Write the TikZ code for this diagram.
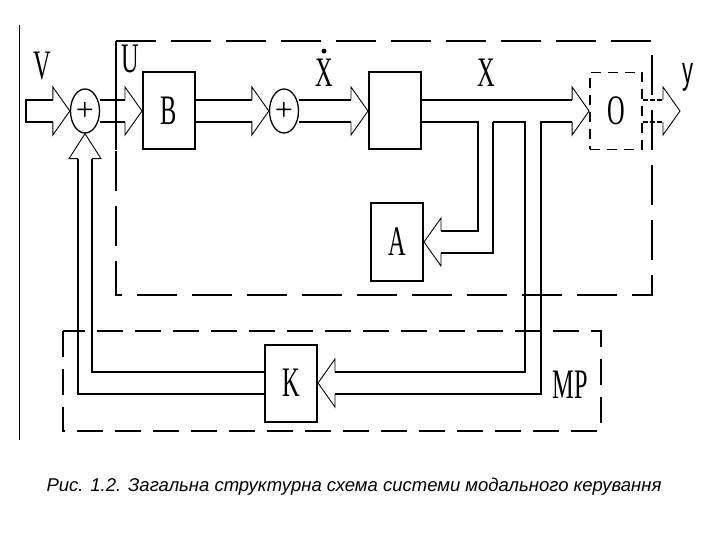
\documentclass[tikz,border=0pt]{standalone}
\usepackage{fontspec}
\setmainfont{Liberation Serif}
\setsansfont{Liberation Sans}
\usetikzlibrary{shapes.geometric}

% tall narrow letters of the scheme
\newcommand{\narrow}[1]{\scalebox{0.58}[1]{#1}}
% hollow arrow heads (tip at the given point)
\newcommand{\headR}[1]{\draw[head] ([shift={(-17pt,11pt)}]#1) -- ([shift={(-17pt,24pt)}]#1) -- (#1) -- ([shift={(-17pt,-24pt)}]#1) -- ([shift={(-17pt,-11pt)}]#1);}
\newcommand{\headL}[1]{\draw[head] ([shift={(17pt,11pt)}]#1) -- ([shift={(17pt,24pt)}]#1) -- (#1) -- ([shift={(17pt,-24pt)}]#1) -- ([shift={(17pt,-11pt)}]#1);}
\newcommand{\headU}[1]{\draw[head] ([shift={(-7pt,-25pt)}]#1) -- ([shift={(-16pt,-25pt)}]#1) -- (#1) -- ([shift={(16pt,-25pt)}]#1) -- ([shift={(7pt,-25pt)}]#1);}
% hollow arrow from one node to the next on the same row
\newcommand{\blockR}[2]{%
  \draw[shaft] ([yshift=11pt]#1) -- ([shift={(-17pt,11pt)}]#2);
  \draw[shaft] ([yshift=-11pt]#1) -- ([shift={(-17pt,-11pt)}]#2);
  \headR{#2}}

\begin{document}
\begin{tikzpicture}[x=1pt, y=-1pt,
    blk/.style={draw, line width=2pt, minimum width=52pt, minimum height=77pt, inner sep=0pt, font=\fontsize{42}{42}\selectfont},
    dblk/.style={blk, line width=1.8pt, dash pattern=on 10pt off 7pt},
    adder/.style={draw, ellipse, line width=1.3pt, minimum width=29pt, minimum height=44pt, inner sep=0pt, font=\fontsize{32}{32}\selectfont},
    shaft/.style={line width=1.8pt},
    outshaft/.style={line width=1.2pt, dash pattern=on 5pt off 2pt},
    head/.style={line width=0.9pt},
    lbl/.style={font=\fontsize{42}{42}\selectfont, inner sep=0pt},
    bigdash/.style={line width=1.8pt, dash pattern=on 40pt off 15pt},
    smalldash/.style={line width=1.8pt, dash pattern=on 26pt off 12pt}
]
\useasboundingbox (0,0) rectangle (720,540);

% frames
\draw[line width=1pt] (19,25) -- (19,440);
\draw[shaft] (116,150) -- (116,41);
\draw[bigdash] (116,41) -- (652,41) -- (652,295) -- (116,295) -- cycle;
\draw[smalldash] (63,331) rectangle (601,431);

% blocks of the forward path
\node[adder] (sum1) at (85,111) {+};
\node[blk] (b) at (169,111) {\narrow{B}};
\node[adder] (sum2) at (284,111) {+};
\node[blk] (intg) at (395,111) {};
\node[dblk] (o) at (616,111) {\narrow{O}};

% feedback blocks
\node[blk] (a) at (397,242) {\narrow{A}};
\node[blk] (k) at (291,383) {\narrow{K}};

% signal labels
\node[lbl] (v) at (42,66) {\narrow{V}};
\node[lbl] (u) at (130,59) {\narrow{U}};
\node[lbl] (xd) at (324,73) {\narrow{X}};
\fill ([yshift=8pt]xd.north) circle (2.5pt);
\node[lbl] (x) at (486,73) {\narrow{X}};
\node[lbl, font=\sffamily\fontsize{38}{38}\selectfont] (y) at (688,77) {\narrow{y}};
\node[lbl] (mp) at (570,385) {\narrow{MP}};

% input and output ends
\coordinate (vin) at (26,111);
\coordinate (yout) at (680,111);
\coordinate (tapA1) at (478,122);
\coordinate (tapA2) at (493,122);
\coordinate (tapK1) at (525,122);
\coordinate (tapK2) at (541,122);

% forward path
\draw[shaft] ([shift={(-17pt,11pt)}]sum1.west) -- ([yshift=11pt]vin) -- ([yshift=-11pt]vin) -- ([shift={(-17pt,-11pt)}]sum1.west);
\headR{sum1.west}
\blockR{sum1.east}{b.west}
\blockR{b.east}{sum2.west}
\blockR{sum2.east}{intg.west}
\draw[shaft] ([yshift=11pt]intg.east) -- ([shift={(-17pt,11pt)}]o.west);
\headR{o.west}
\draw[outshaft] ([yshift=11pt]o.east) -- ([shift={(-17pt,11pt)}]yout);
\draw[outshaft] ([yshift=-11pt]o.east) -- ([shift={(-17pt,-11pt)}]yout);
\headR{yout}

% feedback through A
\draw[shaft] ([yshift=-11pt]intg.east) -- (tapA1) |- ([shift={(17pt,11pt)}]a.east);
\draw[shaft] (tapA2) |- ([shift={(17pt,-11pt)}]a.east);
\headL{a.east}

% modal regulator K
\draw[shaft] (tapA2) -- (tapK1) |- ([shift={(17pt,11pt)}]k.east);
\draw[shaft] ([shift={(-17pt,-11pt)}]o.west) -- (tapK2) |- ([shift={(17pt,-11pt)}]k.east);
\headL{k.east}
\draw[shaft] ([yshift=11pt]k.west) -| ([shift={(7pt,-25pt)}]sum1.south);
\draw[shaft] ([yshift=-11pt]k.west) -| ([shift={(-7pt,-25pt)}]sum1.south);
\headU{sum1.south}

% caption
\node[font=\sffamily\itshape\fontsize{18.5}{22}\selectfont] (cap) at (354,487) {Рис. 1.2. Загальна структурна схема системи модального керування};

\end{tikzpicture}
\end{document}
